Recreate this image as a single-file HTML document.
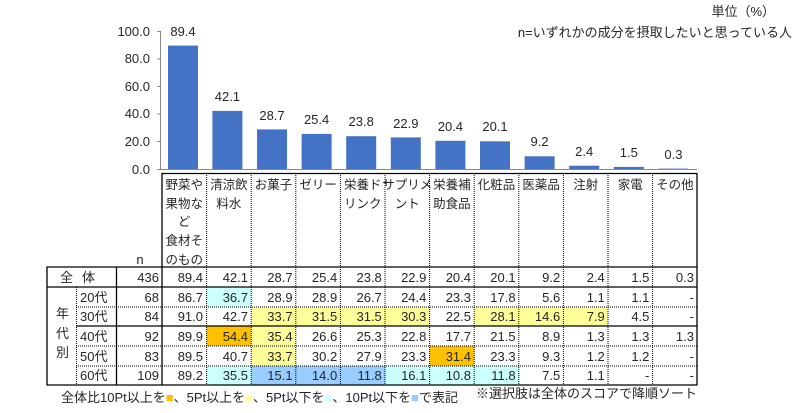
<!DOCTYPE html>
<html><head><meta charset="utf-8"><style>
html,body{margin:0;padding:0;background:#fff}
svg{display:block}
text{font-family:"Liberation Sans","Noto Sans CJK JP",sans-serif;font-size:13px;fill:#262626}
.r{text-anchor:end}.m{text-anchor:middle}
.h{font-size:12.5px}
</style></head><body>
<svg width="802" height="413" viewBox="0 0 802 413" xmlns="http://www.w3.org/2000/svg">
<text x="775" y="16" class="r" font-size="11">単位（%）</text>
<text x="792" y="37" class="r" font-size="11">n=いずれかの成分を摂取したいと思っている人</text>
<line x1="160.5" y1="31" x2="160.5" y2="170" stroke="#888"/>
<g stroke="#888"><line x1="157" y1="31.5" x2="160" y2="31.5"/><line x1="157" y1="59" x2="160" y2="59"/><line x1="157" y1="86.5" x2="160" y2="86.5"/><line x1="157" y1="114" x2="160" y2="114"/><line x1="157" y1="141.5" x2="160" y2="141.5"/><line x1="157" y1="169.5" x2="160" y2="169.5"/></g>
<line x1="160" y1="169.5" x2="697" y2="169.5" stroke="#888"/>
<g><text x="150" y="36" class="r">100.0</text><text x="150" y="63" class="r">80.0</text><text x="150" y="91" class="r">60.0</text><text x="150" y="118" class="r">40.0</text><text x="150" y="146" class="r">20.0</text><text x="150" y="174" class="r">0.0</text></g>
<g fill="#4472C4">
<rect x="168" y="45.6" width="30" height="123.4"/>
<rect x="212.4" y="110.9" width="30" height="58.1"/>
<rect x="257" y="129.4" width="30" height="39.6"/>
<rect x="301.6" y="133.9" width="30" height="35.1"/>
<rect x="346.2" y="136.2" width="30" height="32.8"/>
<rect x="390.8" y="137.4" width="30" height="31.6"/>
<rect x="435.4" y="140.8" width="30" height="28.2"/>
<rect x="480" y="141.3" width="30" height="27.7"/>
<rect x="524.6" y="156.3" width="30" height="12.7"/>
<rect x="569.2" y="165.7" width="30" height="3.3"/>
<rect x="613.8" y="166.9" width="30" height="2.1"/>
<rect x="658.4" y="168.6" width="30" height="0.4"/>
</g>
<g>
<text x="183" y="36" class="m">89.4</text>
<text x="227.4" y="101" class="m">42.1</text>
<text x="272" y="120" class="m">28.7</text>
<text x="316.6" y="124" class="m">25.4</text>
<text x="361.2" y="126" class="m">23.8</text>
<text x="405.8" y="128" class="m">22.9</text>
<text x="450.4" y="131" class="m">20.4</text>
<text x="495" y="131" class="m">20.1</text>
<text x="539.6" y="146" class="m">9.2</text>
<text x="584.2" y="156" class="m">2.4</text>
<text x="628.8" y="157" class="m">1.5</text>
<text x="673.4" y="159" class="m">0.3</text>
</g>
<g>
<rect x="206.6" y="287" width="44.6" height="20" fill="#CCFFFF"/>
<rect x="251.2" y="307" width="178.4" height="19" fill="#FFFF99"/>
<rect x="474.2" y="307" width="133.8" height="19" fill="#FFFF99"/>
<rect x="206.6" y="326" width="44.6" height="20" fill="#FFC000"/>
<rect x="251.2" y="326" width="44.6" height="20" fill="#FFFF99"/>
<rect x="251.2" y="346" width="44.6" height="20" fill="#FFFF99"/>
<rect x="429.6" y="346" width="44.6" height="20" fill="#FFC000"/>
<rect x="206.6" y="366" width="44.6" height="19" fill="#CCFFFF"/>
<rect x="251.2" y="366" width="133.8" height="19" fill="#99CCFF"/>
<rect x="385" y="366" width="133.8" height="19" fill="#CCFFFF"/>
</g>
<g stroke="#000" stroke-width="1" stroke-dasharray="1,1">
<line x1="206.6" y1="173" x2="206.6" y2="385"/><line x1="251.2" y1="173" x2="251.2" y2="385"/><line x1="295.8" y1="173" x2="295.8" y2="385"/><line x1="340.4" y1="173" x2="340.4" y2="385"/><line x1="385" y1="173" x2="385" y2="385"/><line x1="429.6" y1="173" x2="429.6" y2="385"/><line x1="474.2" y1="173" x2="474.2" y2="385"/><line x1="518.8" y1="173" x2="518.8" y2="385"/><line x1="563.4" y1="173" x2="563.4" y2="385"/><line x1="608" y1="173" x2="608" y2="385"/><line x1="652.6" y1="173" x2="652.6" y2="385"/>
<line x1="76.5" y1="287" x2="76.5" y2="385"/>
<line x1="76" y1="307" x2="697" y2="307"/><line x1="76" y1="346" x2="697" y2="346"/><line x1="76" y1="366" x2="697" y2="366"/>
</g>
<g stroke="#000" stroke-width="1.3" fill="none">
<polyline points="162,267 162,173.5 697,173.5 697,385 47,385 47,267 697,267"/>
<line x1="47" y1="287" x2="697" y2="287"/>
<line x1="76" y1="326" x2="697" y2="326"/>
<line x1="116.5" y1="267" x2="116.5" y2="385"/>
<line x1="162" y1="267" x2="162" y2="385"/>
</g>
<g class="h">
<text x="184.3" y="189" class="m h">野菜や</text><text x="184.3" y="208" class="m h">果物な</text><text x="184.3" y="226" class="m h">ど</text><text x="184.3" y="245" class="m h">食材そ</text><text x="184.3" y="264" class="m h">のもの</text>
<text x="228.9" y="189" class="m h">清涼飲</text><text x="228.9" y="208" class="m h">料水</text>
<text x="273.5" y="189" class="m h">お菓子</text>
<text x="318.1" y="189" class="m h">ゼリー</text>
<text x="362.7" y="189" class="m h">栄養ド</text><text x="362.7" y="208" class="m h">リンク</text>
<text x="407.3" y="189" class="m h" font-size="12">サプリメ</text><text x="407.3" y="208" class="m h">ント</text>
<text x="451.9" y="189" class="m h">栄養補</text><text x="451.9" y="208" class="m h">助食品</text>
<text x="496.5" y="189" class="m h">化粧品</text>
<text x="541.1" y="189" class="m h">医薬品</text>
<text x="585.7" y="189" class="m h">注射</text>
<text x="630.3" y="189" class="m h">家電</text>
<text x="674.9" y="189" class="m h">その他</text>
<text x="140" y="264" class="m">n</text>
</g>
<text x="60" y="282">全</text><text x="82" y="282">体</text>
<text x="56" y="318">年</text><text x="56" y="338">代</text><text x="56" y="357">別</text>
<text x="80" y="302">20代</text><text x="80" y="321">30代</text><text x="80" y="341">40代</text><text x="80" y="361">50代</text><text x="80" y="380">60代</text>
<g>
<text x="159" y="282" class="r">436</text><text x="203" y="282" class="r">89.4</text><text x="248" y="282" class="r">42.1</text><text x="292.6" y="282" class="r">28.7</text><text x="337.2" y="282" class="r">25.4</text><text x="381.8" y="282" class="r">23.8</text><text x="426.4" y="282" class="r">22.9</text><text x="471" y="282" class="r">20.4</text><text x="515.6" y="282" class="r">20.1</text><text x="560.2" y="282" class="r">9.2</text><text x="604.8" y="282" class="r">2.4</text><text x="649.4" y="282" class="r">1.5</text><text x="694" y="282" class="r">0.3</text>
<text x="159" y="302" class="r">68</text><text x="203" y="302" class="r">86.7</text><text x="248" y="302" class="r">36.7</text><text x="292.6" y="302" class="r">28.9</text><text x="337.2" y="302" class="r">28.9</text><text x="381.8" y="302" class="r">26.7</text><text x="426.4" y="302" class="r">24.4</text><text x="471" y="302" class="r">23.3</text><text x="515.6" y="302" class="r">17.8</text><text x="560.2" y="302" class="r">5.6</text><text x="604.8" y="302" class="r">1.1</text><text x="649.4" y="302" class="r">1.1</text><text x="694" y="302" class="r">-</text>
<text x="159" y="321" class="r">84</text><text x="203" y="321" class="r">91.0</text><text x="248" y="321" class="r">42.7</text><text x="292.6" y="321" class="r">33.7</text><text x="337.2" y="321" class="r">31.5</text><text x="381.8" y="321" class="r">31.5</text><text x="426.4" y="321" class="r">30.3</text><text x="471" y="321" class="r">22.5</text><text x="515.6" y="321" class="r">28.1</text><text x="560.2" y="321" class="r">14.6</text><text x="604.8" y="321" class="r">7.9</text><text x="649.4" y="321" class="r">4.5</text><text x="694" y="321" class="r">-</text>
<text x="159" y="341" class="r">92</text><text x="203" y="341" class="r">89.9</text><text x="248" y="341" class="r">54.4</text><text x="292.6" y="341" class="r">35.4</text><text x="337.2" y="341" class="r">26.6</text><text x="381.8" y="341" class="r">25.3</text><text x="426.4" y="341" class="r">22.8</text><text x="471" y="341" class="r">17.7</text><text x="515.6" y="341" class="r">21.5</text><text x="560.2" y="341" class="r">8.9</text><text x="604.8" y="341" class="r">1.3</text><text x="649.4" y="341" class="r">1.3</text><text x="694" y="341" class="r">1.3</text>
<text x="159" y="361" class="r">83</text><text x="203" y="361" class="r">89.5</text><text x="248" y="361" class="r">40.7</text><text x="292.6" y="361" class="r">33.7</text><text x="337.2" y="361" class="r">30.2</text><text x="381.8" y="361" class="r">27.9</text><text x="426.4" y="361" class="r">23.3</text><text x="471" y="361" class="r">31.4</text><text x="515.6" y="361" class="r">23.3</text><text x="560.2" y="361" class="r">9.3</text><text x="604.8" y="361" class="r">1.2</text><text x="649.4" y="361" class="r">1.2</text><text x="694" y="361" class="r">-</text>
<text x="159" y="380" class="r">109</text><text x="203" y="380" class="r">89.2</text><text x="248" y="380" class="r">35.5</text><text x="292.6" y="380" class="r">15.1</text><text x="337.2" y="380" class="r">14.0</text><text x="381.8" y="380" class="r">11.8</text><text x="426.4" y="380" class="r">16.1</text><text x="471" y="380" class="r">10.8</text><text x="515.6" y="380" class="r">11.8</text><text x="560.2" y="380" class="r">7.5</text><text x="604.8" y="380" class="r">1.1</text><text x="649.4" y="380" class="r">-</text><text x="694" y="380" class="r">-</text>
</g>
<text x="61" y="402" font-size="11">全体比10Pt以上を<tspan fill="#FFC000">■</tspan>、5Pt以上を<tspan fill="#FFFF99">■</tspan>、5Pt以下を<tspan fill="#CCFFFF">■</tspan>、10Pt以下を<tspan fill="#99CCFF">■</tspan>で表記</text>
<text x="697" y="398" class="r" font-size="11.5" fill="#595959">※選択肢は全体のスコアで降順ソート</text>
</svg>
</body></html>
